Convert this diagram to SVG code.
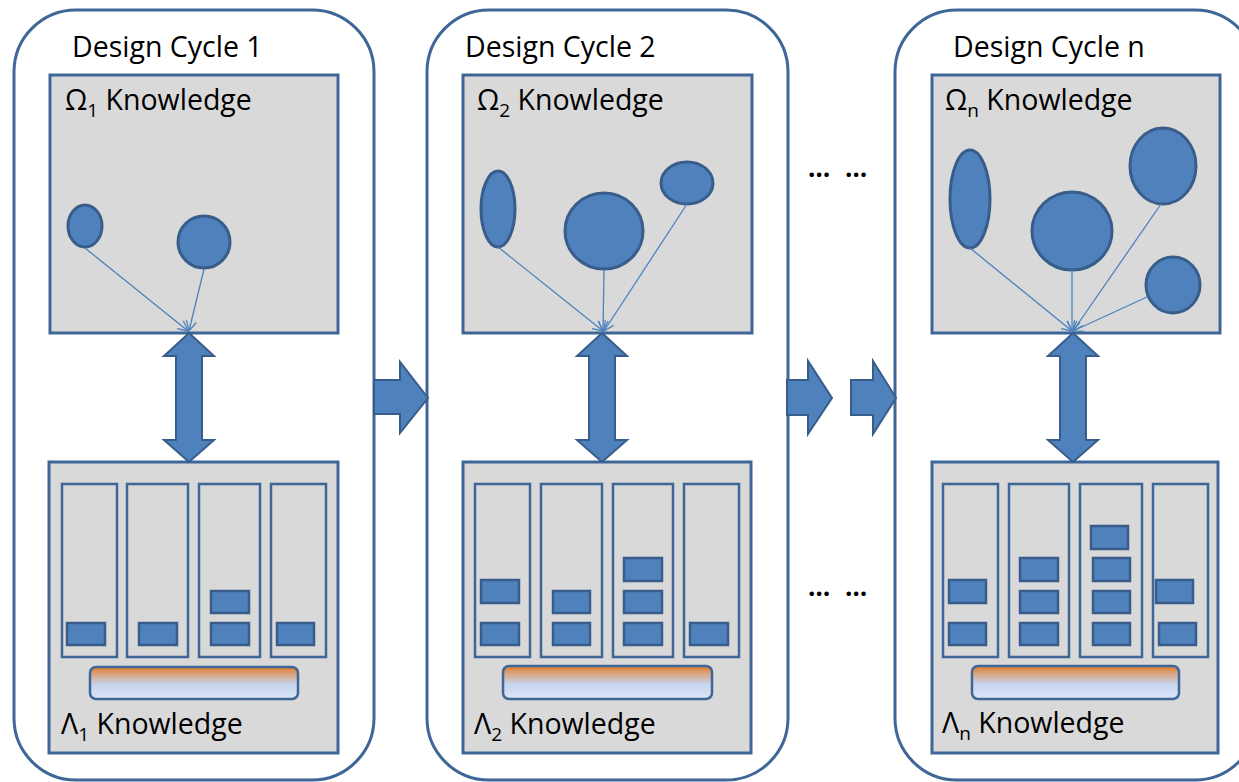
<svg xmlns="http://www.w3.org/2000/svg" width="1239" height="782" viewBox="0 0 1239 782">
<defs>
<style>
.cycle{fill:#fff;stroke:#3E6697;stroke-width:3}
.panel{fill:#D9D9D9;stroke:#3E6697;stroke-width:3}
.col{fill:#D9D9D9;stroke:#3E6697;stroke-width:2.5}
.blk{fill:#4F81BD;stroke:#385D8A;stroke-width:2.5}
.ell{fill:#4F81BD;stroke:#385D8A;stroke-width:3}
.bar{fill:url(#barGrad);stroke:#3E6697;stroke-width:2.5}
.big{fill:#4F81BD;stroke:#385D8A;stroke-width:2}
.link{stroke:#4F81BD;stroke-width:1.3;fill:none;marker-end:url(#open)}
.title{font-family:"Open Sans","Liberation Sans",sans-serif;font-size:28.5px;fill:#000}
.lbl{font-family:"Open Sans","Liberation Sans",sans-serif;font-size:28.5px;fill:#000}
.sub{font-size:19px}
.dots{font-family:"Open Sans","Liberation Sans",sans-serif;font-size:26px;font-weight:bold;fill:#000}
</style>
<linearGradient id="barGrad" x1="0" y1="0" x2="0" y2="1">
<stop offset="0" stop-color="#E0782A"/>
<stop offset="0.25" stop-color="#D9A888"/>
<stop offset="0.55" stop-color="#C6D4EE"/>
<stop offset="1" stop-color="#DCE6F6"/>
</linearGradient>
<marker id="open" viewBox="0 0 12 12" refX="11" refY="6" markerWidth="12" markerHeight="12" markerUnits="userSpaceOnUse" orient="auto">
<path d="M1,1 L11,6 L1,11" fill="none" stroke="#4F81BD" stroke-width="1.3"/>
</marker>
</defs>

<g id="cycle1">
<rect class="cycle" x="14" y="10" width="360" height="770" rx="62" ry="62"/>
<text class="title" x="72" y="57">Design Cycle 1</text>
<g id="omega1">
<rect class="panel" x="50" y="75" width="288" height="258"/>
<text class="lbl" x="65" y="110">Ω<tspan class="sub" dy="7">1</tspan><tspan dy="-7"> Knowledge</tspan></text>
<ellipse class="ell" cx="85" cy="226" rx="17" ry="21"/>
<ellipse class="ell" cx="204" cy="242" rx="26" ry="26"/>
</g>
<g id="lambda1">
<rect class="panel" x="49" y="462" width="289" height="291"/>
<rect class="col" x="62" y="484" width="55" height="173"/>
<rect class="col" x="127" y="484" width="61" height="173"/>
<rect class="col" x="199" y="484" width="61" height="173"/>
<rect class="col" x="271" y="484" width="55" height="173"/>
<rect class="blk" x="67" y="623" width="38" height="22"/>
<rect class="blk" x="139" y="623" width="38" height="22"/>
<rect class="blk" x="211" y="591" width="38" height="22"/>
<rect class="blk" x="211" y="623" width="38" height="22"/>
<rect class="blk" x="277" y="623" width="37" height="22"/>
<rect class="bar" x="90" y="667" width="208" height="32" rx="6" ry="6"/>
<text class="lbl" x="61" y="734">Λ<tspan class="sub" dy="7">1</tspan><tspan dy="-7"> Knowledge</tspan></text>
</g>
</g>

<g id="cycle2">
<rect class="cycle" x="427" y="10" width="361" height="770" rx="62" ry="62"/>
<text class="title" x="465" y="57">Design Cycle 2</text>
<g id="omega2">
<rect class="panel" x="463" y="75" width="289" height="258"/>
<text class="lbl" x="477" y="110">Ω<tspan class="sub" dy="7">2</tspan><tspan dy="-7"> Knowledge</tspan></text>
<ellipse class="ell" cx="498" cy="209" rx="17" ry="38"/>
<ellipse class="ell" cx="604" cy="231" rx="39" ry="38"/>
<ellipse class="ell" cx="687" cy="183" rx="26" ry="21"/>
</g>
<g id="lambda2">
<rect class="panel" x="463" y="462" width="288" height="291"/>
<rect class="col" x="475" y="484" width="55" height="173"/>
<rect class="col" x="541" y="484" width="61" height="173"/>
<rect class="col" x="613" y="484" width="60" height="173"/>
<rect class="col" x="684" y="484" width="55" height="173"/>
<rect class="blk" x="481" y="580" width="38" height="23"/>
<rect class="blk" x="481" y="623" width="38" height="22"/>
<rect class="blk" x="553" y="591" width="37" height="22"/>
<rect class="blk" x="553" y="623" width="37" height="22"/>
<rect class="blk" x="624" y="558" width="38" height="23"/>
<rect class="blk" x="624" y="591" width="38" height="22"/>
<rect class="blk" x="624" y="623" width="38" height="22"/>
<rect class="blk" x="690" y="623" width="38" height="22"/>
<rect class="bar" x="503" y="666" width="209" height="33" rx="6" ry="6"/>
<text class="lbl" x="474" y="734">Λ<tspan class="sub" dy="7">2</tspan><tspan dy="-7"> Knowledge</tspan></text>
</g>
</g>

<g id="cyclen">
<rect class="cycle" x="895" y="10" width="362" height="770" rx="62" ry="62"/>
<text class="title" x="953" y="57">Design Cycle n</text>
<g id="omegan">
<rect class="panel" x="932" y="75" width="288" height="258"/>
<text class="lbl" x="945" y="110">Ω<tspan class="sub" dy="7">n</tspan><tspan dy="-7"> Knowledge</tspan></text>
<ellipse class="ell" cx="970" cy="199" rx="20" ry="49"/>
<ellipse class="ell" cx="1072" cy="231" rx="40" ry="39"/>
<ellipse class="ell" cx="1163" cy="166" rx="33" ry="38"/>
<ellipse class="ell" cx="1173" cy="285" rx="27" ry="28"/>
</g>
<g id="lambdan">
<rect class="panel" x="932" y="462" width="286" height="291"/>
<rect class="col" x="943" y="484" width="55" height="173"/>
<rect class="col" x="1009" y="484" width="60" height="173"/>
<rect class="col" x="1080" y="484" width="62" height="173"/>
<rect class="col" x="1153" y="484" width="55" height="173"/>
<rect class="blk" x="949" y="580" width="37" height="23"/>
<rect class="blk" x="949" y="623" width="37" height="22"/>
<rect class="blk" x="1020" y="558" width="38" height="23"/>
<rect class="blk" x="1020" y="591" width="38" height="22"/>
<rect class="blk" x="1020" y="623" width="38" height="22"/>
<rect class="blk" x="1091" y="526" width="37" height="23"/>
<rect class="blk" x="1093" y="558" width="37" height="23"/>
<rect class="blk" x="1093" y="591" width="37" height="22"/>
<rect class="blk" x="1093" y="623" width="37" height="22"/>
<rect class="blk" x="1156" y="580" width="37" height="23"/>
<rect class="blk" x="1159" y="623" width="37" height="22"/>
<rect class="bar" x="972" y="666" width="207" height="33" rx="6" ry="6"/>
<text class="lbl" x="942" y="733">Λ<tspan class="sub" dy="7">n</tspan><tspan dy="-7"> Knowledge</tspan></text>
</g>
</g>

<g id="ellipsis">
<text class="dots" x="808" y="177">…</text>
<text class="dots" x="845" y="177">…</text>
<text class="dots" x="808" y="596">…</text>
<text class="dots" x="845" y="596">…</text>
</g>

<g id="connectors">
<line class="link" x1="85" y1="248" x2="188" y2="331"/>
<line class="link" x1="204" y1="269" x2="189" y2="331"/>
<line class="link" x1="498" y1="247" x2="603" y2="331"/>
<line class="link" x1="604" y1="270" x2="603" y2="331"/>
<line class="link" x1="687" y1="204" x2="604" y2="331"/>
<line class="link" x1="970" y1="248" x2="1072" y2="331"/>
<line class="link" x1="1072" y1="270" x2="1072" y2="331"/>
<line class="link" x1="1161" y1="204" x2="1073" y2="331"/>
<line class="link" x1="1147" y1="297" x2="1073" y2="331"/>
<polygon class="big" points="189,333 214,356 202,356 202,440 214,440 189,462 164,440 176,440 176,356 164,356"/>
<polygon class="big" points="602,333 627,356 615,356 615,440 627,440 602,462 577,440 589,440 589,356 577,356"/>
<polygon class="big" points="1073,333 1098,356 1086,356 1086,440 1098,440 1073,462 1048,440 1060,440 1060,356 1048,356"/>
<polygon class="big" points="374,380 400,380 400,362 428,398 400,433 400,414 374,414"/>
<polygon class="big" points="787,380 808,380 808,361 832,398 808,434 808,415 787,415"/>
<polygon class="big" points="851,380 873,380 873,361 896,398 873,434 873,415 851,415"/>
</g>
</svg>
